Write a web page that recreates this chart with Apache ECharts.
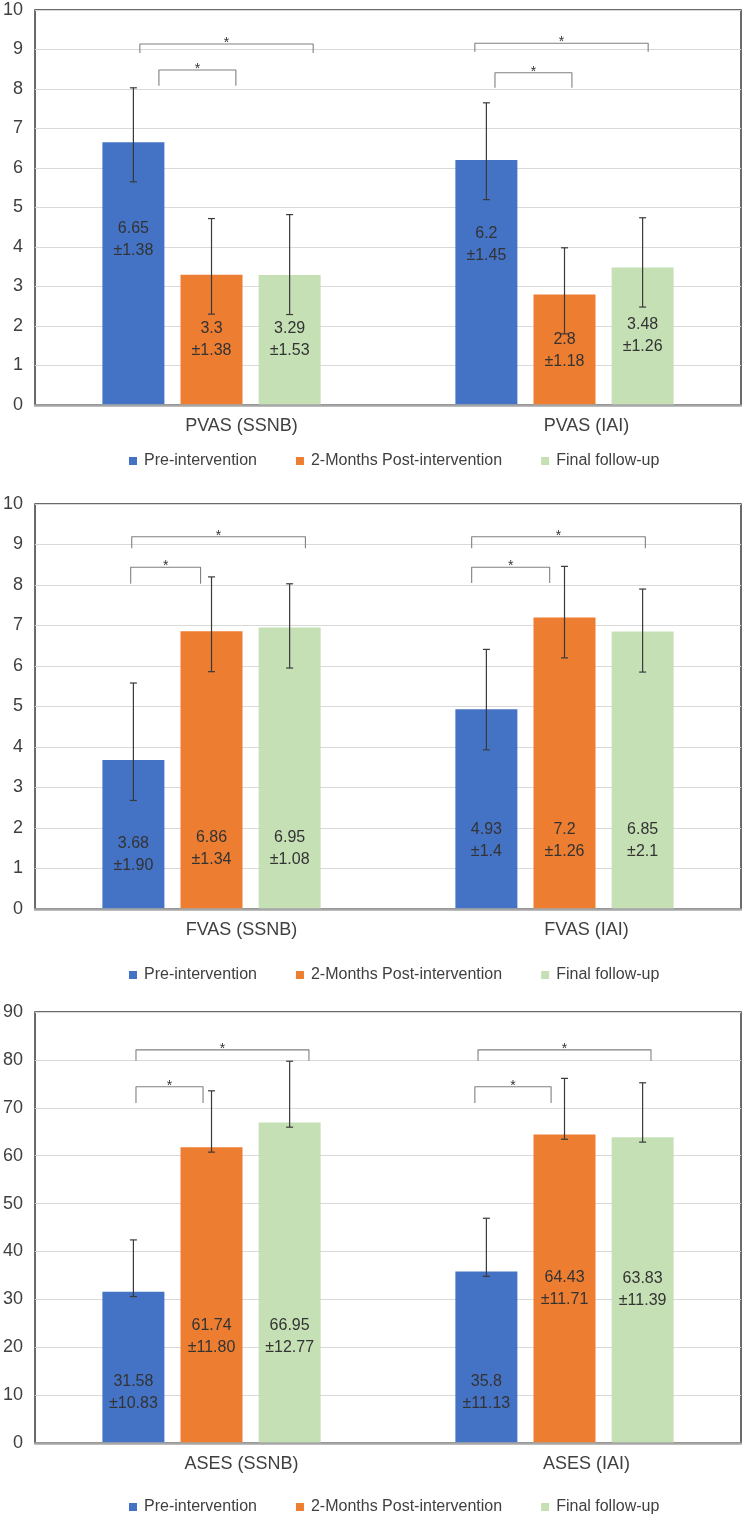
<!DOCTYPE html>
<html>
<head>
<meta charset="utf-8">
<script src="https://cdn.jsdelivr.net/npm/echarts@6/dist/echarts.min.js"></script>
<style>
html,body{margin:0;padding:0;background:#fff;}
#c{width:742px;height:1517px;}
</style>
</head>
<body>
<div id="c"></div>
<script>
// ---------- DATA ----------
const seriesNames = ['Pre-intervention', '2-Months Post-intervention', 'Final follow-up'];

const pvasCats = ['PVAS (SSNB)', 'PVAS (IAI)'];
const pvasPre = [6.65, 6.2];
const pvasPost = [3.3, 2.8];
const pvasFinal = [3.29, 3.48];
const pvasPreSD = ['1.38', '1.45'];
const pvasPostSD = ['1.38', '1.18'];
const pvasFinalSD = ['1.53', '1.26'];
const pvasPreUp = [1.38, 1.45];
const pvasPostUp = [1.42, 1.18];
const pvasFinalUp = [1.53, 1.26];

const fvasCats = ['FVAS (SSNB)', 'FVAS (IAI)'];
const fvasPre = [3.68, 4.93];
const fvasPost = [6.86, 7.2];
const fvasFinal = [6.95, 6.85];
const fvasPreSD = ['1.90', '1.4'];
const fvasPostSD = ['1.34', '1.26'];
const fvasFinalSD = ['1.08', '2.1'];
const fvasPreUp = [1.9, 1.48];
const fvasPostUp = [1.34, 1.26];
const fvasFinalUp = [1.08, 1.05];

const asesCats = ['ASES (SSNB)', 'ASES (IAI)'];
const asesPre = [31.58, 35.8];
const asesPost = [61.74, 64.43];
const asesFinal = [66.95, 63.83];
const asesPreSD = ['10.83', '11.13'];
const asesPostSD = ['11.80', '11.71'];
const asesFinalSD = ['12.77', '11.39'];
const asesPreUp = [10.83, 11.13];
const asesPostUp = [11.8, 11.71];
const asesFinalUp = [12.77, 11.39];

// lower error whiskers as drawn
const errDown = [1, 1];

// value at which each label block is centred (data units)
const pvasLabelAt = [[4.2, 4.06], [1.65, 1.37], [1.65, 1.75]];
const fvasLabelAt = [[1.35, 1.69], [1.49, 1.69], [1.49, 1.69]];
const asesLabelAt = [[10.6, 10.6], [22.3, 32.2], [22.3, 32.0]];

// significance brackets (x in category units 0..2, y in value units)
const pvasBrX1 = [0.297, 0.351, 1.246, 1.303];
const pvasBrX2 = [0.788, 0.569, 1.737, 1.521];
const pvasBrTop = [9.14, 8.48, 9.16, 8.41];
const pvasBrLeg = [8.91, 8.08, 8.94, 8.03];

const fvasBrX1 = [0.274, 0.271, 1.237, 1.237];
const fvasBrX2 = [0.766, 0.469, 1.729, 1.458];
const fvasBrTop = [9.19, 8.44, 9.19, 8.44];
const fvasBrLeg = [8.91, 8.03, 8.91, 8.05];

const asesBrX1 = [0.286, 0.286, 1.255, 1.246];
const asesBrX2 = [0.776, 0.476, 1.745, 1.462];
const asesBrTop = [82.1, 74.4, 82.1, 74.4];
const asesBrLeg = [79.8, 71.0, 79.8, 71.0];

const yMaxes = [10, 10, 90];
const yIntervals = [1, 1, 10];

// ---------- STYLE ----------
const FONT = "'Liberation Sans', Arial, sans-serif";
const COLORS = ['#4472C4', '#ED7D31', '#C5E0B4'];
const BAR_W = 62;
const BAR_GAP = 0.26;
const PITCH = BAR_W * (1 + BAR_GAP);
const TXT = '#404040';

const panels = [
  { cats: pvasCats, vals: [pvasPre, pvasPost, pvasFinal], sd: [pvasPreSD, pvasPostSD, pvasFinalSD],
    up: [pvasPreUp, pvasPostUp, pvasFinalUp], lab: pvasLabelAt,
    br: [pvasBrX1, pvasBrX2, pvasBrTop, pvasBrLeg] },
  { cats: fvasCats, vals: [fvasPre, fvasPost, fvasFinal], sd: [fvasPreSD, fvasPostSD, fvasFinalSD],
    up: [fvasPreUp, fvasPostUp, fvasFinalUp], lab: fvasLabelAt,
    br: [fvasBrX1, fvasBrX2, fvasBrTop, fvasBrLeg] },
  { cats: asesCats, vals: [asesPre, asesPost, asesFinal], sd: [asesPreSD, asesPostSD, asesFinalSD],
    up: [asesPreUp, asesPostUp, asesFinalUp], lab: asesLabelAt,
    br: [asesBrX1, asesBrX2, asesBrTop, asesBrLeg] }
];

const gridPos = [
  { left: 35, right: 1, top: 10, height: 395 },
  { left: 33, right: 1, top: 504, height: 405 },
  { left: 35, right: 1, top: 1012, height: 431 }
];
const legendTop = [453, 967, 1499];

const grid = [], xAxis = [], yAxis = [], series = [], legend = [];

panels.forEach((p, k) => {
  grid.push(Object.assign({ show: true, borderColor: '#3a3a3a', borderWidth: 1.5, backgroundColor: 'transparent' }, gridPos[k]));
  // category axis
  xAxis.push({
    type: 'category', gridIndex: k, data: p.cats,
    axisTick: { show: false },
    axisLine: { show: true, lineStyle: { color: '#a6a6a6', width: 2.5 } },
    axisLabel: {
      interval: 0, margin: 12, fontFamily: FONT, fontSize: 18, color: TXT,
      formatter: (v, i) => '{c' + i + '|' + v + '}',
      rich: {
        c0: { fontFamily: FONT, fontSize: 18, color: TXT, padding: [0, 0, 0, 60] },
        c1: { fontFamily: FONT, fontSize: 18, color: TXT, padding: [0, 0, 0, 44] }
      }
    },
    z: 10
  });
  // hidden value axis for bracket annotation
  xAxis.push({ type: 'value', gridIndex: k, min: 0, max: 2, show: false });
  yAxis.push({
    type: 'value', gridIndex: k, min: 0, max: yMaxes[k], interval: yIntervals[k],
    axisLine: { show: false }, axisTick: { show: false },
    axisLabel: { fontFamily: FONT, fontSize: 18, color: TXT, margin: 12 },
    splitLine: { lineStyle: { color: '#d9d9d9', width: 1 } }
  });

  const catAxis = k * 2, valAxis = k * 2 + 1;

  // bars
  p.vals.forEach((arr, s) => {
    series.push({
      type: 'bar', name: seriesNames[s], xAxisIndex: catAxis, yAxisIndex: k,
      data: arr, barWidth: BAR_W, barGap: (BAR_GAP * 100) + '%',
      itemStyle: { color: COLORS[s] }, z: 2, silent: true
    });
  });

  // value labels
  p.vals.forEach((arr, s) => {
    series.push({
      type: 'custom', xAxisIndex: catAxis, yAxisIndex: k, z: 3, silent: true,
      data: arr.map((v, i) => [i, v]),
      renderItem: (params, api) => {
        const i = params.dataIndex;
        const c = api.coord([i, p.lab[s][i]]);
        return {
          type: 'text',
          style: {
            x: c[0] + (s - 1) * PITCH, y: c[1],
            text: String(arr[i]) + '\n\u00b1' + p.sd[s][i],
            font: '16px ' + FONT, fill: '#333', align: 'center', verticalAlign: 'middle', lineHeight: 22
          }
        };
      }
    });
  });

  // error bars
  p.vals.forEach((arr, s) => {
    series.push({
      type: 'custom', xAxisIndex: catAxis, yAxisIndex: k, z: 4, silent: true,
      data: arr.map((v, i) => [i, v]),
      renderItem: (params, api) => {
        const i = params.dataIndex;
        const base = api.coord([i, arr[i]]);
        const x = base[0] + (s - 1) * PITCH;
        const yT = api.coord([i, arr[i] + p.up[s][i]])[1];
        const yB = api.coord([i, arr[i] - errDown[i]])[1];
        const st = { stroke: '#3a3a3a', lineWidth: 1.2 };
        return {
          type: 'group', children: [
            { type: 'line', shape: { x1: x, y1: yT, x2: x, y2: yB }, style: st },
            { type: 'line', shape: { x1: x - 3.5, y1: yT, x2: x + 3.5, y2: yT }, style: st },
            { type: 'line', shape: { x1: x - 3.5, y1: yB, x2: x + 3.5, y2: yB }, style: st }
          ]
        };
      }
    });
  });

  // significance brackets
  const [bx1, bx2, bt, bl] = p.br;
  series.push({
    type: 'custom', xAxisIndex: valAxis, yAxisIndex: k, z: 5, silent: true,
    data: bx1.map((v, i) => [v, bt[i]]),
    renderItem: (params, api) => {
      const i = params.dataIndex;
      const a = api.coord([bx1[i], bl[i]]);
      const b = api.coord([bx1[i], bt[i]]);
      const c = api.coord([bx2[i], bt[i]]);
      const d = api.coord([bx2[i], bl[i]]);
      return {
        type: 'group', children: [
          { type: 'polyline', shape: { points: [a, b, c, d] },
            style: { stroke: '#808080', lineWidth: 1.1, fill: null, lineJoin: 'round' } },
          { type: 'text', style: { x: (b[0] + c[0]) / 2, y: b[1] - 1, text: '*',
              font: '14px ' + FONT, fill: '#333', align: 'center', verticalAlign: 'middle' } }
        ]
      };
    }
  });

  legend.push({
    data: seriesNames, top: legendTop[k], left: 129, padding: 0,
    icon: 'rect', itemWidth: 8, itemHeight: 8, itemGap: 39, selectedMode: false,
    textStyle: { fontFamily: FONT, fontSize: 16, color: TXT, padding: [0, 0, 0, 2] }
  });
});

const chart = echarts.init(document.getElementById('c'), null, { renderer: 'canvas' });
chart.setOption({
  animation: false,
  backgroundColor: '#fff',
  textStyle: { fontFamily: FONT },
  grid, xAxis, yAxis, series, legend
});
</script>
</body>
</html>
